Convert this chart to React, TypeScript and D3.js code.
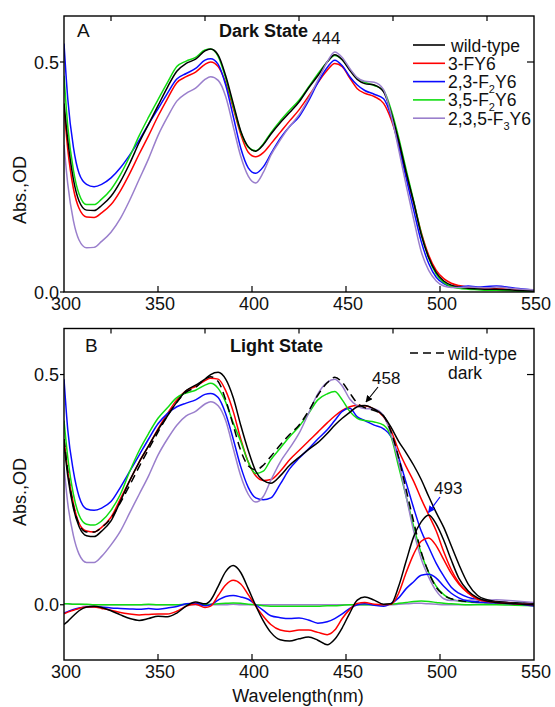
import React from "react";
import * as d3 from "d3";

// wavelength grid (nm) shared by every spectrum
const wavelengths = [
  300, 302, 305, 308, 312, 316, 320,
  325, 330, 335, 340, 345, 350, 355, 360, 365, 370, 375,
  378, 382, 386, 390, 394, 398, 402, 406, 410,
  415, 420, 425, 430, 435, 440, 444, 448, 452, 456, 460,
  465, 470, 474, 478, 482, 486, 490, 494, 498, 502, 506, 510,
  515, 520, 525, 530, 540, 550,
];

// Panel A: dark state
const darkWT = [
  0.41, 0.33, 0.245, 0.198, 0.178, 0.177, 0.188,
  0.208, 0.24, 0.28, 0.325, 0.365, 0.405, 0.445, 0.48, 0.497, 0.506, 0.524,
  0.528, 0.515, 0.47, 0.41, 0.35, 0.316, 0.306, 0.32, 0.343,
  0.368, 0.39, 0.413, 0.443, 0.47, 0.5, 0.516, 0.505, 0.482, 0.462, 0.453,
  0.45, 0.435, 0.39, 0.33, 0.26, 0.195, 0.125, 0.075, 0.042, 0.024, 0.015, 0.011,
  0.008, 0.007, 0.006, 0.006, 0.004, 0.002,
];
const dark3F = [
  0.4, 0.31, 0.225, 0.182, 0.163, 0.162, 0.172,
  0.19, 0.22, 0.258, 0.3, 0.34, 0.382, 0.42, 0.455, 0.468, 0.478, 0.495,
  0.5, 0.49, 0.455, 0.4, 0.343, 0.304, 0.294, 0.303, 0.322,
  0.347, 0.372, 0.396, 0.425, 0.455, 0.482, 0.497, 0.49, 0.465, 0.442, 0.432,
  0.425, 0.41, 0.375, 0.322, 0.258, 0.195, 0.13, 0.08, 0.047, 0.029, 0.019, 0.014,
  0.011, 0.009, 0.008, 0.007, 0.005, 0.002,
];
const dark23F2 = [
  0.54, 0.42, 0.315, 0.258, 0.234, 0.229, 0.234,
  0.248, 0.27, 0.298, 0.33, 0.365, 0.398, 0.432, 0.463, 0.475, 0.486, 0.504,
  0.507, 0.495, 0.45, 0.382, 0.313, 0.27, 0.258, 0.272, 0.3,
  0.334, 0.36, 0.381, 0.415, 0.455, 0.488, 0.504, 0.492, 0.468, 0.45, 0.438,
  0.43, 0.42, 0.382, 0.318, 0.248, 0.178, 0.11, 0.062, 0.032, 0.018, 0.012, 0.011,
  0.013, 0.011, 0.012, 0.013, 0.008, 0.004,
];
const dark35F2 = [
  0.47, 0.36, 0.265, 0.213, 0.19, 0.19, 0.202,
  0.223, 0.255, 0.295, 0.34, 0.38, 0.418, 0.455, 0.49, 0.502, 0.51, 0.526,
  0.528, 0.512, 0.465, 0.405, 0.348, 0.315, 0.307, 0.322, 0.346,
  0.372, 0.395, 0.417, 0.445, 0.474, 0.5, 0.514, 0.505, 0.484, 0.465, 0.456,
  0.449, 0.438, 0.396, 0.336, 0.266, 0.198, 0.128, 0.074, 0.039, 0.021, 0.012, 0.008,
  0.006, 0.005, 0.004, 0.004, 0.002, 0.0,
];
const dark235F3 = [
  0.32, 0.235, 0.155, 0.113, 0.096, 0.097, 0.11,
  0.13, 0.16, 0.2, 0.245, 0.29, 0.34, 0.38, 0.415, 0.432, 0.443, 0.462,
  0.468, 0.46, 0.425, 0.36, 0.295, 0.252, 0.237, 0.26, 0.297,
  0.33, 0.36, 0.385, 0.42, 0.46, 0.5, 0.522, 0.51, 0.486, 0.466, 0.458,
  0.456, 0.44, 0.385, 0.31, 0.232, 0.158, 0.088, 0.047, 0.024, 0.013, 0.01, 0.01,
  0.011, 0.01, 0.009, 0.011, 0.007, 0.005,
];

// Panel B: wild-type dark reference and light state spectra
const darkWTref = [
  0.36, 0.29, 0.215, 0.175, 0.158, 0.158, 0.168,
  0.188, 0.222, 0.26, 0.3, 0.338, 0.375, 0.41, 0.44, 0.462, 0.472, 0.49,
  0.495, 0.485, 0.445, 0.39, 0.335, 0.302, 0.293, 0.303, 0.322,
  0.347, 0.37, 0.39, 0.42, 0.455, 0.482, 0.494, 0.483, 0.46, 0.438, 0.428,
  0.422, 0.41, 0.375, 0.32, 0.25, 0.18, 0.115, 0.07, 0.038, 0.021, 0.013, 0.009,
  0.007, 0.006, 0.005, 0.005, 0.003, 0.002,
];
const lightWT = [
  0.35, 0.28, 0.21, 0.17, 0.15, 0.148, 0.16,
  0.182, 0.225, 0.27, 0.31, 0.345, 0.38, 0.41, 0.44, 0.465, 0.477, 0.49,
  0.5, 0.505, 0.49, 0.45, 0.39, 0.335, 0.29, 0.27, 0.264,
  0.28, 0.303, 0.32, 0.337, 0.352, 0.372, 0.39, 0.405, 0.418, 0.43, 0.433,
  0.425, 0.41, 0.385, 0.355, 0.33, 0.303, 0.272, 0.235, 0.2, 0.168, 0.128, 0.088,
  0.045, 0.02, 0.011, 0.007, 0.004, 0.002,
];
const light3F = [
  0.36, 0.29, 0.22, 0.177, 0.16, 0.158, 0.168,
  0.19, 0.23, 0.27, 0.31, 0.345, 0.382, 0.415, 0.445, 0.465, 0.474, 0.487,
  0.492, 0.49, 0.465, 0.42, 0.36, 0.31, 0.28, 0.27, 0.272,
  0.29, 0.315, 0.335, 0.355, 0.375, 0.395, 0.41, 0.422, 0.43, 0.433, 0.432,
  0.425, 0.408, 0.378, 0.335, 0.3, 0.268, 0.23, 0.195, 0.16, 0.115, 0.076, 0.048,
  0.026, 0.013, 0.008, 0.006, 0.004, 0.002,
];
const light23F2 = [
  0.49, 0.38, 0.29, 0.235, 0.208, 0.205, 0.21,
  0.224, 0.255, 0.29, 0.325, 0.36, 0.393, 0.415, 0.43, 0.438, 0.445, 0.457,
  0.459, 0.45, 0.415, 0.36, 0.3, 0.255, 0.232, 0.228, 0.232,
  0.262, 0.295, 0.318, 0.338, 0.36, 0.38, 0.4, 0.42, 0.427, 0.408, 0.4,
  0.39, 0.382, 0.365, 0.32, 0.265, 0.21, 0.16, 0.125, 0.09, 0.062, 0.038, 0.025,
  0.016, 0.011, 0.008, 0.006, 0.004, 0.002,
];
const light35F2 = [
  0.4, 0.32, 0.24, 0.195, 0.175, 0.173, 0.182,
  0.205, 0.24, 0.29, 0.335, 0.372, 0.405, 0.428, 0.45, 0.46, 0.466, 0.477,
  0.481, 0.47, 0.44, 0.395, 0.355, 0.31, 0.285, 0.29, 0.315,
  0.34, 0.365, 0.387, 0.415, 0.445, 0.458, 0.463, 0.445, 0.42, 0.405, 0.4,
  0.397, 0.39, 0.365, 0.3, 0.235, 0.17, 0.112, 0.07, 0.04, 0.022, 0.012, 0.008,
  0.006, 0.005, 0.004, 0.004, 0.003, 0.002,
];
const light235F3 = [
  0.3, 0.22, 0.15, 0.11, 0.092, 0.092, 0.105,
  0.13, 0.16, 0.2, 0.24, 0.28, 0.325, 0.36, 0.39, 0.41, 0.42, 0.436,
  0.441, 0.432, 0.4, 0.34, 0.28, 0.24, 0.223, 0.235, 0.27,
  0.31, 0.34, 0.372, 0.415, 0.458, 0.483, 0.49, 0.475, 0.447, 0.432, 0.426,
  0.425, 0.41, 0.37, 0.31, 0.235, 0.16, 0.1, 0.06, 0.03, 0.013, 0.009, 0.009,
  0.01, 0.011, 0.01, 0.011, 0.008, 0.005,
];

// Panel B: light minus dark difference spectra
const diffWT = [
  -0.043, -0.036, -0.024, -0.013, -0.005, -0.003, -0.006,
  -0.013, -0.022, -0.03, -0.034, -0.03, -0.025, -0.026, -0.018, -0.003, 0.006, 0.002,
  0.01, 0.04, 0.072, 0.085, 0.07, 0.035, -0.002, -0.035, -0.06,
  -0.076, -0.079, -0.074, -0.07, -0.077, -0.087, -0.075, -0.05, -0.018, 0.01, 0.017,
  0.01, 0.001, 0.002, 0.04, 0.095, 0.148, 0.18, 0.195, 0.175, 0.14, 0.097, 0.058,
  0.03, 0.015, 0.008, 0.005, 0.002, 0.0,
];
const diff3F = [
  -0.02, -0.016, -0.012, -0.008, -0.005, -0.005, -0.008,
  -0.012, -0.017, -0.02, -0.022, -0.021, -0.02, -0.02, -0.014, -0.003, 0.001, -0.006,
  -0.003, 0.02, 0.043, 0.053, 0.045, 0.022, -0.003, -0.025, -0.043,
  -0.055, -0.058, -0.055, -0.055, -0.06, -0.065, -0.055, -0.03, -0.01, 0.003, 0.005,
  0.001, 0.0, 0.001, 0.025, 0.07, 0.11, 0.138, 0.145, 0.128, 0.098, 0.068, 0.045,
  0.025, 0.012, 0.007, 0.005, 0.002, 0.0,
];
const diff23F2 = [
  -0.018, -0.015, -0.01, -0.007, -0.005, -0.005, -0.005,
  -0.007, -0.008, -0.009, -0.01, -0.008, -0.01, -0.007, -0.004, 0.002, 0.003, -0.002,
  0.0, 0.01, 0.018, 0.02, 0.017, 0.012, 0.0, -0.012, -0.024,
  -0.028, -0.03, -0.029, -0.033, -0.04, -0.037, -0.03, -0.02, -0.008, 0.0, 0.002,
  -0.001, -0.003, 0.003, 0.015, 0.035, 0.05, 0.064, 0.066, 0.058, 0.04, 0.025, 0.015,
  0.008, 0.006, 0.005, 0.004, 0.002, -0.003,
];
const diff35F2 = [
  0.002, 0.002, 0.001, 0.001, 0.001, 0.0, 0.0,
  0.0, 0.0, 0.0, 0.0, 0.001, 0.0, 0.0, 0.0, 0.001, 0.001, 0.0,
  0.001, 0.002, 0.003, 0.004, 0.003, 0.001, 0.0, -0.002, -0.003,
  -0.003, -0.003, -0.003, -0.003, -0.003, -0.002, -0.002, -0.001, 0.0, 0.0, 0.0,
  0.0, 0.0, 0.001, 0.003, 0.005, 0.007, 0.008, 0.007, 0.005, 0.003, 0.002, 0.001,
  0.0, 0.0, 0.0, 0.0, -0.001, -0.002,
];
const diff235F3 = [
  0.002, 0.002, 0.001, 0.001, 0.0, 0.0, 0.0,
  0.0, 0.0, 0.0, 0.0, 0.0, 0.0, 0.0, 0.0, 0.0, 0.0, 0.0,
  0.0, 0.0, 0.0, 0.001, 0.0, 0.0, 0.0, 0.0, 0.0,
  0.0, 0.0, 0.0, 0.0, 0.0, 0.0, 0.0, 0.0, 0.0, 0.0, 0.0,
  0.0, 0.0, 0.0, 0.001, 0.002, 0.003, 0.003, 0.002, 0.001, 0.0, 0.0, 0.0,
  0.0, 0.001, 0.001, 0.001, 0.001, 0.0,
];

const xMajorTicks = [300, 350, 400, 450, 500, 550];
const xTopTicks = [325, 375, 425, 475, 525];
const yTicks = [0.0, 0.5];

const COLORS = {
  wt: "#000000",
  f3: "#ff0000",
  f23: "#0a0aff",
  f35: "#11dd11",
  f235: "#9a7fcc",
};

const legendA = [
  { key: "wt", parts: [["wild-type", false]] },
  { key: "f3", parts: [["3-FY6", false]] },
  { key: "f23", parts: [["2,3-F", false], ["2", true], ["Y6", false]] },
  { key: "f35", parts: [["3,5-F", false], ["2", true], ["Y6", false]] },
  { key: "f235", parts: [["2,3,5-F", false], ["3", true], ["Y6", false]] },
];

const FONT = "Liberation Sans, Arial, Helvetica, sans-serif";
const W = 555;
const H = 707;
const LEFT = 64;
const RIGHT = 534;

const x = d3.scaleLinear().domain([300, 550]).range([LEFT, RIGHT]);

const Panel = ({ id, top, bottom, yDomain, series, labelY }) => {
  const y = d3.scaleLinear().domain(yDomain).range([bottom, top]);
  const line = d3
    .line<number>()
    .x((_, i) => x(wavelengths[i]))
    .y((d) => y(d))
    .curve(d3.curveMonotoneX);

  return (
    <g>
      <defs>
        <clipPath id={`clip-${id}`}>
          <rect x={LEFT} y={top} width={RIGHT - LEFT} height={bottom - top} />
        </clipPath>
      </defs>
      <g clipPath={`url(#clip-${id})`} fill="none" strokeLinejoin="round">
        {series.map((s, i) => (
          <path
            key={i}
            d={line(s.values) || ""}
            stroke={s.color}
            strokeWidth={1.5}
            strokeDasharray={s.dash || null}
          />
        ))}
      </g>
      {/* frame */}
      <rect
        x={LEFT}
        y={top}
        width={RIGHT - LEFT}
        height={bottom - top}
        fill="none"
        stroke="#000"
        strokeWidth={1.4}
      />
      {/* ticks */}
      <g stroke="#000" strokeWidth={1.2}>
        {xMajorTicks.slice(1, -1).map((t) => (
          <line key={`b${t}`} x1={x(t)} x2={x(t)} y1={bottom} y2={bottom - 6} />
        ))}
        {xTopTicks.map((t) => (
          <line key={`t${t}`} x1={x(t)} x2={x(t)} y1={top} y2={top + 5} />
        ))}
        {yTicks.map((t) => (
          <line key={`l${t}`} x1={LEFT - 4} x2={LEFT} y1={y(t)} y2={y(t)} />
        ))}
        <line x1={RIGHT - 7} x2={RIGHT} y1={y(0.5)} y2={y(0.5)} />
      </g>
      <g fontFamily={FONT} fontSize={18} fill="#111">
        {xMajorTicks.map((t) => (
          <text key={t} x={x(t) + 2} y={bottom + 18} textAnchor="middle">
            {t}
          </text>
        ))}
        {yTicks.map((t) => (
          <text key={t} x={LEFT - 5} y={y(t) + 6.5} textAnchor="end">
            {d3.format(".1f")(t)}
          </text>
        ))}
        <text
          transform={`translate(26,${labelY}) rotate(-90)`}
          textAnchor="middle"
        >
          Abs.,OD
        </text>
      </g>
    </g>
  );
};

export default function App() {
  const seriesA = [
    { values: dark3F, color: COLORS.f3 },
    { values: dark23F2, color: COLORS.f23 },
    { values: dark35F2, color: COLORS.f35 },
    { values: darkWT, color: COLORS.wt },
    { values: dark235F3, color: COLORS.f235 },
  ];
  const seriesB = [
    { values: light3F, color: COLORS.f3 },
    { values: light23F2, color: COLORS.f23 },
    { values: light35F2, color: COLORS.f35 },
    { values: light235F3, color: COLORS.f235 },
    { values: lightWT, color: COLORS.wt },
    { values: darkWTref, color: COLORS.wt, dash: "8 5" },
    { values: diff235F3, color: COLORS.f235 },
    { values: diff35F2, color: COLORS.f35 },
    { values: diff23F2, color: COLORS.f23 },
    { values: diff3F, color: COLORS.f3 },
    { values: diffWT, color: COLORS.wt },
  ];

  return (
    <svg
      width={W}
      height={H}
      style={{ position: "absolute", left: 0, top: 0, background: "#fff" }}
    >
      <defs>
        <marker
          id="arrowBlack"
          viewBox="0 0 10 10"
          refX={9}
          refY={5}
          markerWidth={7}
          markerHeight={7}
          orient="auto"
          markerUnits="userSpaceOnUse"
        >
          <path d="M0,0 L10,5 L0,10 z" fill="#000" />
        </marker>
        <marker
          id="arrowBlue"
          viewBox="0 0 10 10"
          refX={9}
          refY={5}
          markerWidth={7}
          markerHeight={7}
          orient="auto"
          markerUnits="userSpaceOnUse"
        >
          <path d="M0,0 L10,5 L0,10 z" fill={COLORS.f23} />
        </marker>
      </defs>
      <rect width={W} height={H} fill="#fff" />

      <Panel id="a" top={16} bottom={292} yDomain={[0, 0.6]} series={seriesA} labelY={190} />
      <Panel id="b" top={328.5} bottom={660} yDomain={[-0.12, 0.6]} series={seriesB} labelY={492} />

      <g fontFamily={FONT} fill="#111">
        {/* panel A labels */}
        <text x={77} y={37} fontSize={19}>A</text>
        <text x={219} y={37} fontSize={18} fontWeight="bold">Dark State</text>
        <text x={312} y={44} fontSize={17}>444</text>
        {legendA.map((row, i) => {
          const ly = 45 + i * 18.3;
          return (
            <g key={row.key}>
              <line x1={413} x2={445} y1={ly} y2={ly} stroke={COLORS[row.key]} strokeWidth={1.6} />
              <text x={i === 0 ? 451 : 448} y={ly + 6.5} fontSize={17.5}>
                {row.parts.map(([t, sub], j) =>
                  sub ? (
                    <tspan key={j} fontSize={11} dy={5}>{t}</tspan>
                  ) : (
                    <tspan key={j} dy={j > 0 ? -5 : 0}>{t}</tspan>
                  )
                )}
              </text>
            </g>
          );
        })}

        {/* panel B labels */}
        <text x={85} y={352} fontSize={19}>B</text>
        <text x={230} y={352} fontSize={18} fontWeight="bold">Light State</text>
        <line x1={410} x2={446} y1={353} y2={353} stroke="#000" strokeWidth={1.6} strokeDasharray="8 5" />
        <text x={448} y={359.5} fontSize={17.5}>wild-type</text>
        <text x={448} y={379} fontSize={17.5}>dark</text>

        <text x={372} y={384} fontSize={17}>458</text>
        <line x1={378} y1={387} x2={366} y2={402} stroke="#000" strokeWidth={1.2} markerEnd="url(#arrowBlack)" />
        <text x={434} y={494} fontSize={17}>493</text>
        <line x1={440} y1={497} x2={428.5} y2={512.5} stroke={COLORS.f23} strokeWidth={1.2} markerEnd="url(#arrowBlue)" />

        <text x={298} y={702} fontSize={18} textAnchor="middle">Wavelength(nm)</text>
      </g>
    </svg>
  );
}
